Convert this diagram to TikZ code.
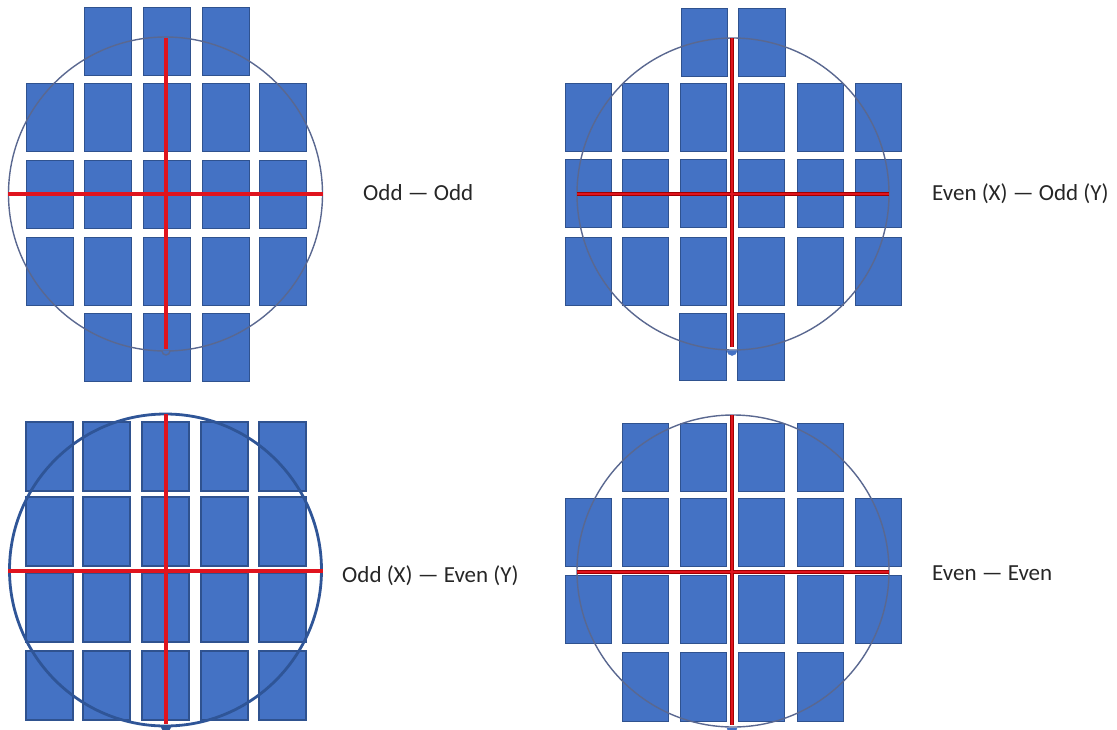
\documentclass[tikz,border=0pt]{standalone}
\usepackage{fontspec}
\setmainfont{Carlito}
\definecolor{chipfill}{HTML}{4472C4}
\definecolor{chipedge}{HTML}{2F528F}
\definecolor{wafer}{HTML}{5A6890}
\definecolor{waferdark}{HTML}{2F5597}
\definecolor{axisred}{HTML}{E0141E}
\definecolor{axisedge}{HTML}{A00000}
\tikzset{
  chip/.style={fill=chipfill, draw=chipedge, line width=0.8pt},
  chipthick/.style={fill=chipfill, draw=chipedge, line width=1.8pt},
  waferline/.style={draw=wafer, line width=1.4pt},
  waferthick/.style={draw=waferdark, line width=2.8pt},
  axisline/.style={draw=axisred, line width=3.6pt},
  axisouter/.style={draw=axisedge, line width=4.2pt},
  axisinner/.style={draw=axisred, line width=2.6pt},
  label/.style={anchor=base west, inner sep=0pt, text=black!85, font=\fontsize{23}{28}\selectfont},
}
\begin{document}
\begin{tikzpicture}[x=1pt, y=-1pt]
\useasboundingbox (0,0) rectangle (1117,729);

% ---------- Odd - Odd ----------
\foreach \cx in {84,143,202} {
  \draw[chip] (\cx,7) rectangle ++(47,68);
  \draw[chip] (\cx,313) rectangle ++(47,68);
}
\foreach \cy in {83,160,237}
  \foreach \cx in {26,84,143,202,259}
    \draw[chip] (\cx,\cy) rectangle ++(47,68);
\coordinate (c1) at (165.5,194);
\draw[waferline] (c1) circle (157);
\coordinate (h1l) at (8,194);   \coordinate (h1r) at (323,194);
\coordinate (v1t) at (166,38);  \coordinate (v1b) at (166,349);
\draw[axisline] (h1l) -- (h1r);
\draw[axisline] (v1t) -- (v1b);
\draw[waferline, fill=chipfill] (162,351) arc (180:0:4);
\node[label] (t1) at (363,200.5) {Odd — Odd};

% ---------- Even (X) - Odd (Y) ----------
\draw[chip] (681,8) rectangle ++(46,68);
\draw[chip] (738,8) rectangle ++(47,68);
\foreach \cy in {83,159,237}
  \foreach \cx in {565,622,680,738,797,855}
    \draw[chip] (\cx,\cy) rectangle ++(46,68);
\draw[chip] (679,313) rectangle ++(47,67);
\draw[chip] (737,313) rectangle ++(47,67);
\coordinate (c2) at (733,194);
\draw[waferline] (c2) circle (156);
\coordinate (h2l) at (577,194);  \coordinate (h2r) at (889,194);
\coordinate (v2t) at (732,38);   \coordinate (v2b) at (732,347);
\draw[axisouter] (h2l) -- (h2r);
\draw[axisouter] (v2t) -- (v2b);
\draw[axisinner] (h2l) -- (h2r);
\draw[axisinner] (v2t) -- (v2b);
\draw[draw=chipfill, fill=chipfill] (727,350.5) arc (180:0:5) -- cycle;
\node[label] (t2) at (932,200) {Even (X) — Odd (Y)};

% ---------- Odd (X) - Even (Y) ----------
\foreach \cy in {422,497,573,651}
  \foreach \cx in {26,83,142,201,259}
    \draw[chipthick] (\cx,\cy) rectangle ++(47,69);
\coordinate (c3) at (165.5,570);
\draw[waferthick] (c3) circle (156);
\coordinate (h3l) at (8,571);    \coordinate (h3r) at (323,571);
\coordinate (v3t) at (166,414);  \coordinate (v3b) at (166,724);
\draw[axisline] (h3l) -- (h3r);
\draw[axisline] (v3t) -- (v3b);
\draw[draw=waferdark, fill=waferdark] (161,726.5) arc (180:0:5) -- cycle;
\node[label] (t3) at (342,582) {Odd (X) — Even (Y)};

% ---------- Even - Even ----------
\foreach \cx in {622,680,738,797} {
  \draw[chip] (\cx,423) rectangle ++(46,68);
  \draw[chip] (\cx,652) rectangle ++(46,69);
}
\foreach \cy in {498,575}
  \foreach \cx in {565,622,680,738,797,855}
    \draw[chip] (\cx,\cy) rectangle ++(46,68);
\coordinate (c4) at (733,571);
\draw[waferline] (c4) circle (156);
\coordinate (h4l) at (577,572);  \coordinate (h4r) at (889,572);
\coordinate (v4t) at (732,415);  \coordinate (v4b) at (732,725);
\draw[axisouter] (h4l) -- (h4r);
\draw[axisouter] (v4t) -- (v4b);
\draw[axisinner] (h4l) -- (h4r);
\draw[axisinner] (v4t) -- (v4b);
\draw[draw=chipfill, fill=chipfill] (727,728) arc (180:0:5) -- cycle;
\node[label] (t4) at (932,580) {Even — Even};
\end{tikzpicture}
\end{document}
